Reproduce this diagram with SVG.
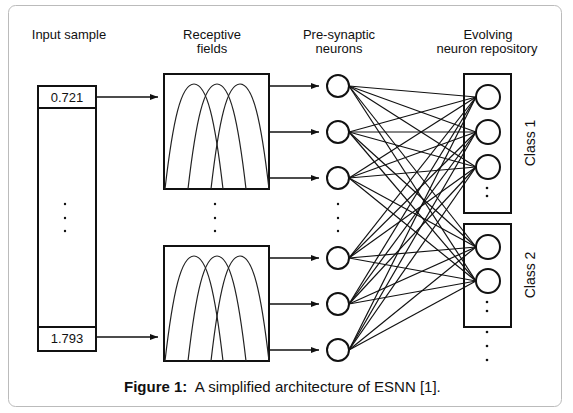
<svg xmlns="http://www.w3.org/2000/svg" width="573" height="413" viewBox="0 0 573 413">
<style>
text{font-family:"Liberation Sans",Arial,sans-serif;fill:#111}
.hd{font-size:13px;text-anchor:middle}
.box{fill:#fff;stroke:#111;stroke-width:2}
.cir{fill:#fff;stroke:#111;stroke-width:2}
.ln{stroke:#111;stroke-width:1.2;fill:none}
.arr{stroke:#111;stroke-width:1.4;fill:none;marker-end:url(#ah)}
.crv{stroke:#222;stroke-width:1.2;fill:none}
.dot{fill:#111}
</style>
<defs>
<marker id="ah" viewBox="0 0 8 6" refX="8" refY="3" markerWidth="8" markerHeight="6" markerUnits="userSpaceOnUse" orient="auto">
<path d="M0,0 L8,3 L0,6 Z" fill="#111"/>
</marker>
<g id="gauss">
<path class="crv" d="M165,189 C173,120 181,84 194,84 C207,84 215,120 223,189"/>
<path class="crv" d="M188,189 C196,120 204,84 217,84 C230,84 238,120 246,189"/>
<path class="crv" d="M211,189 C219,120 227,84 240,84 C253,84 261,120 269,189"/>
</g>
</defs>
<rect x="8.5" y="5.5" width="553" height="401" rx="7" fill="#fff" stroke="#bbb" stroke-width="1"/>

<text class="hd" x="69" y="39">Input sample</text>
<text class="hd" x="212" y="39">Receptive</text>
<text class="hd" x="212" y="53">fields</text>
<text class="hd" x="339" y="39">Pre-synaptic</text>
<text class="hd" x="339" y="53">neurons</text>
<text class="hd" x="488" y="39">Evolving</text>
<text class="hd" x="487" y="53">neuron repository</text>

<g id="connectors">
<line class="arr" x1="97" y1="97" x2="158" y2="97"/>
<line class="arr" x1="97" y1="337" x2="158" y2="337"/>
<line class="arr" x1="269" y1="86" x2="319" y2="86"/>
<line class="arr" x1="269" y1="132" x2="319" y2="132"/>
<line class="arr" x1="269" y1="178" x2="319" y2="178"/>
<line class="arr" x1="269" y1="258" x2="319" y2="258"/>
<line class="arr" x1="269" y1="304" x2="319" y2="304"/>
<line class="arr" x1="269" y1="350" x2="319" y2="350"/>
<g class="ln">
<line x1="349" y1="86" x2="476" y2="97"/><line x1="349" y1="86" x2="476" y2="132"/><line x1="349" y1="86" x2="476" y2="167"/><line x1="349" y1="86" x2="476" y2="247"/><line x1="349" y1="86" x2="476" y2="281"/>
<line x1="349" y1="132" x2="476" y2="97"/><line x1="349" y1="132" x2="476" y2="132"/><line x1="349" y1="132" x2="476" y2="167"/><line x1="349" y1="132" x2="476" y2="247"/><line x1="349" y1="132" x2="476" y2="281"/>
<line x1="349" y1="178" x2="476" y2="97"/><line x1="349" y1="178" x2="476" y2="132"/><line x1="349" y1="178" x2="476" y2="167"/><line x1="349" y1="178" x2="476" y2="247"/><line x1="349" y1="178" x2="476" y2="281"/>
<line x1="349" y1="258" x2="476" y2="97"/><line x1="349" y1="258" x2="476" y2="132"/><line x1="349" y1="258" x2="476" y2="167"/><line x1="349" y1="258" x2="476" y2="247"/><line x1="349" y1="258" x2="476" y2="281"/>
<line x1="349" y1="304" x2="476" y2="97"/><line x1="349" y1="304" x2="476" y2="132"/><line x1="349" y1="304" x2="476" y2="167"/><line x1="349" y1="304" x2="476" y2="247"/><line x1="349" y1="304" x2="476" y2="281"/>
<line x1="349" y1="350" x2="476" y2="97"/><line x1="349" y1="350" x2="476" y2="132"/><line x1="349" y1="350" x2="476" y2="167"/><line x1="349" y1="350" x2="476" y2="247"/><line x1="349" y1="350" x2="476" y2="281"/>
</g>
</g>

<g id="input">
<rect class="box" x="38" y="86" width="58" height="265"/>
<line x1="38" y1="108" x2="96" y2="108" stroke="#111" stroke-width="2"/>
<line x1="38" y1="327" x2="96" y2="327" stroke="#111" stroke-width="2"/>
<text x="67" y="102" font-size="13" text-anchor="middle">0.721</text>
<text x="67" y="343" font-size="13" text-anchor="middle">1.793</text>
<circle class="dot" cx="65" cy="204" r="1.2"/><circle class="dot" cx="65" cy="218" r="1.2"/><circle class="dot" cx="65" cy="231" r="1.2"/>
</g>

<g id="rf1">
<rect class="box" x="164" y="74" width="105" height="115"/>
<use href="#gauss"/>
</g>
<g id="rf2">
<rect class="box" x="164" y="246" width="105" height="115"/>
<use href="#gauss" transform="translate(0,172)"/>
</g>
<g id="rf-dots">
<circle class="dot" cx="215" cy="204" r="1.2"/><circle class="dot" cx="215" cy="218" r="1.2"/><circle class="dot" cx="215" cy="231" r="1.2"/>
</g>

<g id="presyn">
<circle class="cir" cx="338" cy="86" r="11"/>
<circle class="cir" cx="338" cy="132" r="11"/>
<circle class="cir" cx="338" cy="178" r="11"/>
<circle class="cir" cx="338" cy="258" r="11"/>
<circle class="cir" cx="338" cy="304" r="11"/>
<circle class="cir" cx="338" cy="350" r="11"/>
<circle class="dot" cx="338" cy="204" r="1.2"/><circle class="dot" cx="338" cy="218" r="1.2"/><circle class="dot" cx="338" cy="231" r="1.2"/>
</g>

<g id="class1">
<rect x="464" y="74" width="47" height="139" fill="none" stroke="#111" stroke-width="2"/>
<circle class="cir" cx="488" cy="97" r="12"/>
<circle class="cir" cx="488" cy="132" r="12"/>
<circle class="cir" cx="488" cy="167" r="12"/>
<circle class="dot" cx="487" cy="188" r="1.3"/><circle class="dot" cx="487" cy="196" r="1.3"/>
<text font-size="14" text-anchor="middle" transform="translate(535,143) rotate(-90)">Class 1</text>
</g>
<g id="class2">
<rect x="464" y="224" width="47" height="103" fill="none" stroke="#111" stroke-width="2"/>
<circle class="cir" cx="488" cy="247" r="12"/>
<circle class="cir" cx="488" cy="281" r="12"/>
<circle class="dot" cx="487" cy="302" r="1.3"/><circle class="dot" cx="487" cy="311" r="1.3"/>
<text font-size="14" text-anchor="middle" transform="translate(535,275) rotate(-90)">Class 2</text>
</g>
<g id="more-dots">
<circle class="dot" cx="487" cy="332" r="1.3"/><circle class="dot" cx="487" cy="346" r="1.3"/><circle class="dot" cx="487" cy="360" r="1.3"/>
</g>

<text x="124" y="392" font-size="15"><tspan font-weight="bold">Figure 1:</tspan><tspan xml:space="preserve">  A simplified architecture of ESNN [1].</tspan></text>
</svg>
